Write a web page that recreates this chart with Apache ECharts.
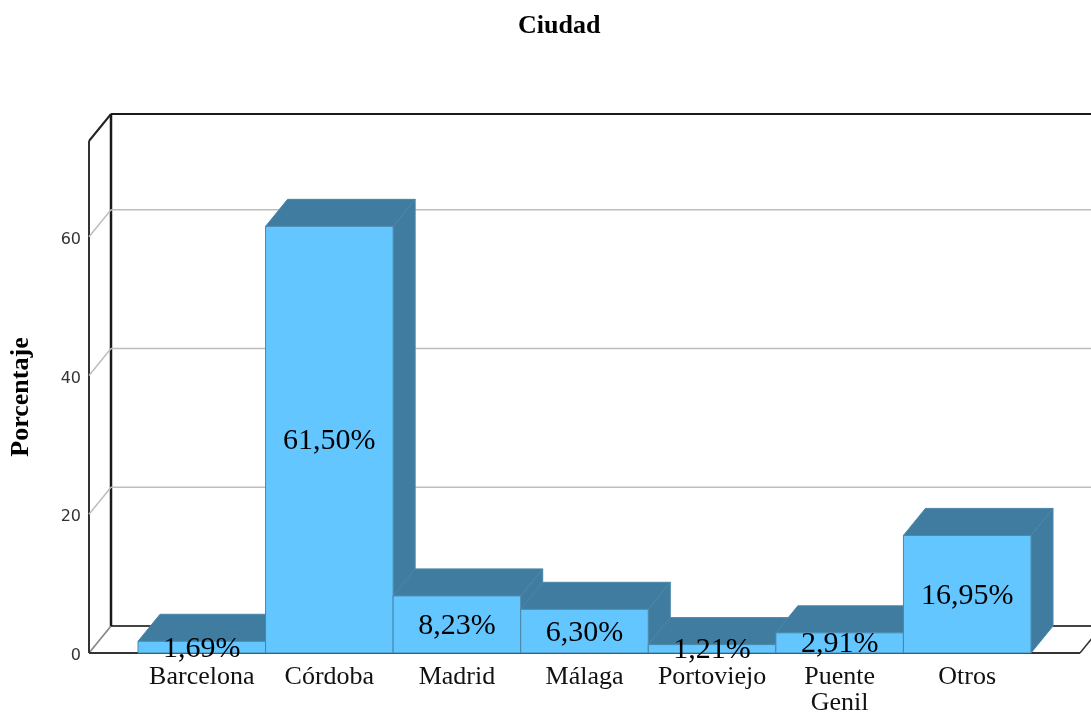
<!DOCTYPE html>
<html><head><meta charset="utf-8">
<style>html,body{margin:0;padding:0;background:#fff}#c{width:1091px;height:715px}</style>
<script src="https://cdn.jsdelivr.net/npm/echarts@6/dist/echarts.min.js"></script>
</head><body><div id="c"></div>
<script>
const categories = ['Barcelona','Córdoba','Madrid','Málaga','Portoviejo','Puente\nGenil','Otros'];
const percentages = [1.69,61.50,8.23,6.30,1.21,2.91,16.95];
const yTicks = [20,40,60];
const AXIS_MAX = 73.8;
const DX = 22, DY = 27, SIDE = 49;
const FRONT = '#63c6ff', DARK = '#3f7c9f', EDGE = '#4a87a8';
const SERIF = '"Liberation Serif","Times New Roman",serif';

const chart = echarts.init(document.getElementById('c'), null, {renderer:'canvas'});

function line(x1,y1,x2,y2,stroke,w){
  return {type:'line',shape:{x1,y1,x2,y2},style:{stroke,lineWidth:w}};
}
function renderWalls(params, api){
  const c = params.coordSys;
  const v = api.value(0);
  const y = api.coord([categories[0], v])[1];
  const y0 = api.coord([categories[0], 0])[1];
  const yTop = api.coord([categories[0], AXIS_MAX])[1];
  const L = c.x - SIDE, R = c.x + c.width + SIDE;
  const ch = [
    line(L,y,L+DX,y-DY,'#bdbdbd',1.5),
    line(L+DX,y-DY,R+DX,y-DY,'#bdbdbd',1.5)
  ];
  if (params.dataIndex === 0) {
    ch.push(
      line(L,y0,L+DX,y0-DY,'#8a8a8a',1.5),
      line(L+DX,y0-DY,R+DX,y0-DY,'#444',2),
      line(L,y0,R,y0,'#333',2),
      line(R,y0,R+DX,y0-DY,'#333',1.5),
      line(L,y0,L,yTop,'#333',2),
      line(L,yTop,L+DX,yTop-DY,'#222',2),
      line(L+DX,y0-DY,L+DX,yTop-DY,'#1a1a1a',2.5),
      line(L+DX,yTop-DY,R+DX,yTop-DY,'#1a1a1a',2)
    );
  }
  return {type:'group',children:ch};
}
function renderBars(params, api){
  const p = api.coord([api.value(0), api.value(1)]);
  const b = api.coord([api.value(0), 0]);
  const w = api.size([1,0])[0];
  const x0 = p[0]-w/2, x1 = p[0]+w/2, yt = p[1], yb = b[1];
  const edge = {stroke:EDGE,lineWidth:1};
  return {type:'group',children:[
    {type:'polygon',shape:{points:[[x1,yt],[x1+DX,yt-DY],[x1+DX,yb-DY],[x1,yb]]},style:{fill:DARK,...edge}},
    {type:'polygon',shape:{points:[[x0,yt],[x0+DX,yt-DY],[x1+DX,yt-DY],[x1,yt]]},style:{fill:DARK,...edge}},
    {type:'rect',shape:{x:x0,y:yt,width:w,height:yb-yt},style:{fill:FRONT,...edge}}
  ]};
}
function renderLabels(params, api){
  const val = api.value(1);
  const p = api.coord([api.value(0), val]);
  const b = api.coord([api.value(0), 0]);
  return {type:'text',style:{
    x:p[0], y:(p[1]+b[1])/2+1.5,
    text: val.toFixed(2).replace('.',',')+'%',
    fill:'#000', font:'30px '+SERIF, textAlign:'center', textVerticalAlign:'middle'
  }};
}
const barData = percentages.map((v,i)=>[categories[i],v]);
chart.setOption({
  animation:false,
  backgroundColor:'#fff',
  title:{text:'Ciudad',left:513,top:8,
    textStyle:{fontFamily:SERIF,fontSize:26,fontWeight:'bold',color:'#000'}},
  grid:{left:138,right:60,top:141,bottom:62,outerBoundsMode:'none'},
  xAxis:{type:'category',data:categories,
    axisLine:{show:false},axisTick:{show:false},splitLine:{show:false},
    axisLabel:{interval:0,margin:11,fontFamily:SERIF,fontSize:26,lineHeight:26,color:'#111'}},
  yAxis:{type:'value',min:0,max:AXIS_MAX,interval:20,offset:SIDE,
    name:'Porcentaje',nameLocation:'middle',nameGap:55,nameRotate:90,
    nameTextStyle:{fontFamily:SERIF,fontSize:26,fontWeight:'bold',color:'#000'},
    axisLine:{show:false},axisTick:{show:false},splitLine:{show:false},
    axisLabel:{showMaxLabel:false,margin:8,formatter:'{t|{value}}',
      rich:{t:{fontFamily:'"DejaVu Sans"',fontSize:16,color:'#333',padding:[6,0,0,0]}}}},
  series:[
    {type:'custom',renderItem:renderWalls,data:[0,...yTicks].map(v=>[v]),encode:{y:0},z:1,silent:true},
    {type:'custom',renderItem:renderBars,data:barData,encode:{x:0,y:1},z:2},
    {type:'custom',renderItem:renderLabels,data:barData,encode:{x:0,y:1},z:3}
  ]
});
</script></body></html>
